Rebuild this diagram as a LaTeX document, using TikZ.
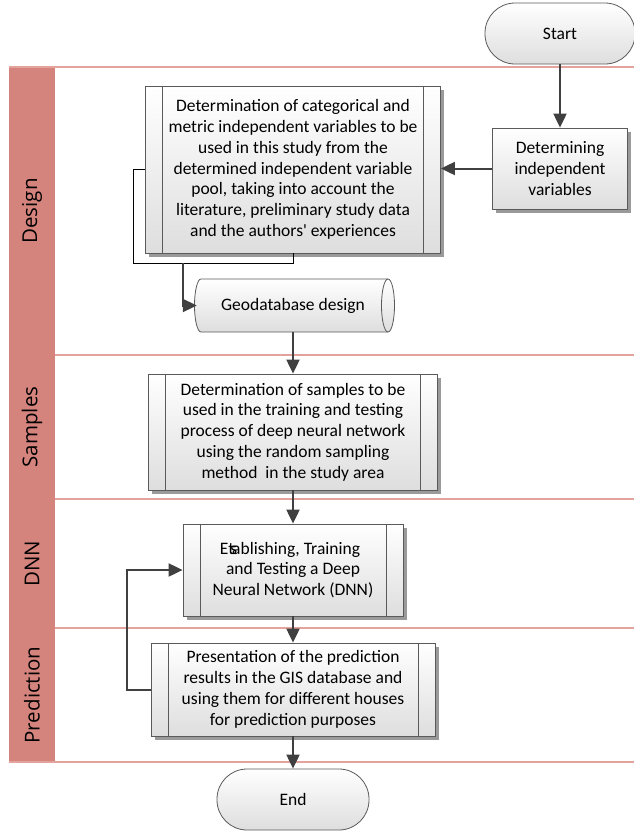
\documentclass[tikz,border=0pt]{standalone}
\usepackage{fontspec}
\setmainfont{Carlito}
\newfontfamily\lanefont{Open Sans}
\usetikzlibrary{shadows,arrows.meta,calc}
\definecolor{lanehead}{HTML}{D4847D}
\definecolor{laneline}{HTML}{E3A29C}
\definecolor{arrowgray}{HTML}{404040}
\definecolor{boxline}{HTML}{5A5A5A}
\definecolor{shadowgray}{HTML}{9A9A9A}
\begin{document}
\begin{tikzpicture}[x=1pt,y=-1pt,
  txt/.style={font=\fontsize{17.5}{20.8}\selectfont, align=center, inner sep=0pt},
  boxfill/.style={draw=boxline, line width=0.8pt, top color=white, bottom color=black!13},
  shadowed/.style={drop shadow={shadow xshift=3.5pt, shadow yshift=-3.5pt, fill=shadowgray, opacity=1}},
  procbox/.style={txt, boxfill, shadowed},
  plainbox/.style={txt, boxfill, shadowed},
  terminal/.style={txt, boxfill, rounded corners=30pt, minimum height=61pt},
  innerline/.style={draw=boxline, line width=0.8pt},
  arr/.style={draw=arrowgray, line width=2pt, -{Triangle[length=14pt,width=13pt]}},
  thinline/.style={draw=black, line width=1pt},
  lanesep/.style={draw=laneline, line width=1.3pt},
  lanelabel/.style={rotate=90, font=\lanefont\fontsize{20.5}{24}\selectfont, inner sep=0pt}
]
\useasboundingbox (0,0) rectangle (634,831);

% swimlanes
\fill[lanehead] (9,67) rectangle (55,762);
\draw[lanesep] (9,67) -- (634,67);
\draw[lanesep] (55,355) -- (634,355);
\draw[lanesep] (55,499) -- (634,499);
\draw[lanesep] (55,628) -- (634,628);
\draw[lanesep] (9,762) -- (634,762);
\node[lanelabel] (lDesign) at (32,211) {Design};
\node[lanelabel] (lSamples) at (32,427) {Samples};
\node[lanelabel] (lDNN) at (32,563.5) {DNN};
\node[lanelabel] (lPred) at (32,695) {Prediction};

% terminals
\node[terminal, minimum width=150pt] (start) at (560,33.5) {Start};
\node[terminal, minimum width=152pt] (end) at (293,799.5) {End};

% boxes
\node[plainbox, minimum width=135pt, minimum height=81pt] (det) at (560,168.5)
  {Determining\\independent\\variables};
\node[procbox, minimum width=295pt, minimum height=167pt] (b1) at (293,169.5)
  {Determination of categorical and\\metric independent variables to be\\used in this study from the\\determined independent variable\\pool, taking into account the\\literature, preliminary study data\\and the authors\textquotesingle\ experiences};
\node[procbox, minimum width=289pt, minimum height=116pt] (b2) at (293,432)
  {Determination of samples to be\\used in the training and testing\\process of deep neural network\\using the random sampling\\method\ \ in the study area};
\node[procbox, minimum width=220pt, minimum height=92pt] (b3) at (293,570)
  {Et\kern-0.22em s\kern-0.28em ablishing, Training\hspace*{6pt}\\and Testing a Deep\\Neural Network (DNN)};
\node[procbox, minimum width=284pt, minimum height=93pt] (b4) at (293,689.5)
  {Presentation of the prediction\\results in the GIS database and\\using them for different houses\\for prediction purposes};

% inner lines of predefined process boxes
\foreach \b in {b1,b2,b3,b4}{
  \draw[innerline] ($(\b.north west)+(17.5,0)$) -- ($(\b.south west)+(17.5,0)$);
  \draw[innerline] ($(\b.north east)+(-17.5,0)$) -- ($(\b.south east)+(-17.5,0)$);
}

% geodatabase (direct access storage)
\node[txt, minimum width=192pt, minimum height=53pt] (geo) at (293,305.5) {};
\shade[boxfill] (201,279) -- (388,279) arc (-90:90:6.5 and 26.5) -- (201,332) arc (90:270:6.5 and 26.5) -- cycle;
\draw[innerline] (388,279) arc (270:90:6.5 and 26.5);
\node[txt] (geotext) at (geo) {Geodatabase design};

% connectors
\draw[arr] (start.south) -- (det.north);
\draw[arr] (det.west) -- (det.west -| b1.east);
\coordinate (j1) at (183,263);
\draw[thinline] (b1.west) -| (133,263) -- (j1);
\draw[thinline] (b1.south) |- (j1);
\draw[arr] (j1) |- (geo.west);
\draw[arr] (geo.south) -- (b2.north);
\draw[arr] (b2.south) -- (b3.north);
\draw[arr] (b3.south) -- (b4.north);
\draw[arr] (b4.west) -- ++(-24,0) |- (b3.west);
\draw[arr] (b4.south) -- (end.north);
\end{tikzpicture}
\end{document}
